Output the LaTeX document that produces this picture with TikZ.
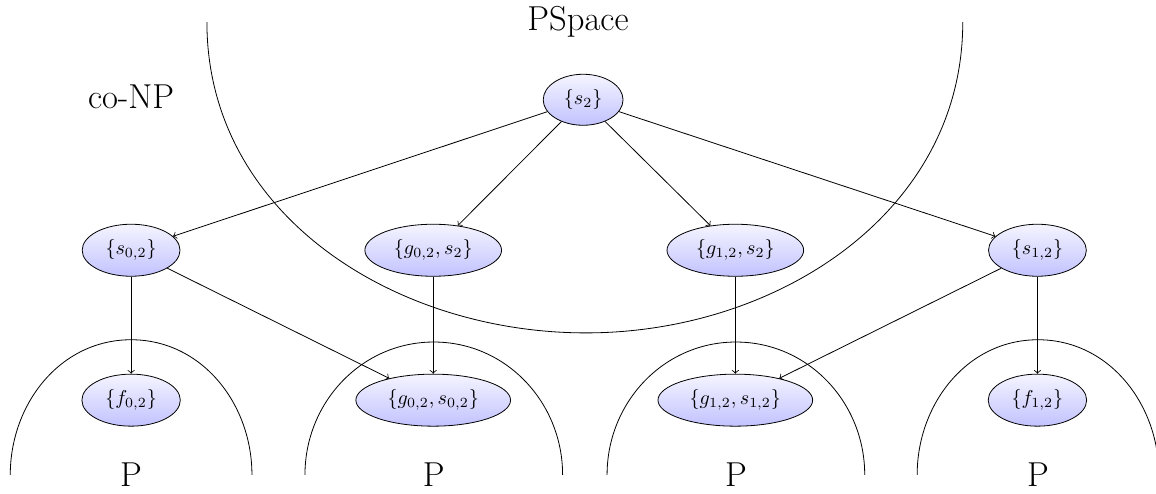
\documentclass[tikz,border=0pt]{standalone}
\usetikzlibrary{shapes.geometric}
\begin{document}
\begin{tikzpicture}[setnode/.style={ellipse,draw,top color=blue!4,bottom color=blue!24,inner xsep=4.5pt,inner ysep=4pt},
 classlabel/.style={font=\LARGE,anchor=base}]
 \useasboundingbox (0,0) rectangle (20.28,-8.65);
 % classes
 \draw (3.63,-0.39) to[out=-90,in=180] (10.28,-5.84) to[out=0,in=-90] (16.89,-0.39);
 \draw (0.18,-8.33) to[out=90,in=180] (2.30,-5.96) to[out=0,in=90] (4.42,-8.33);
 \draw (5.35,-8.33) to[out=90,in=180] (7.61,-6.00) to[out=0,in=90] (9.87,-8.33);
 \draw (10.65,-8.33) to[out=90,in=180] (12.91,-6.00) to[out=0,in=90] (15.17,-8.33);
 \draw (16.09,-8.33) to[out=90,in=180] (18.21,-5.96) to[out=0,in=90] (20.33,-8.33);
 \node[classlabel] (pspace) at (10.14,-0.54) {PSpace};
 \node[classlabel] (conp) at (2.30,-1.91) {co-NP};
 \node[classlabel] (p1) at (2.30,-8.54) {P};
 \node[classlabel] (p2) at (7.61,-8.54) {P};
 \node[classlabel] (p3) at (12.91,-8.54) {P};
 \node[classlabel] (p4) at (18.21,-8.54) {P};
 % sets
 \node[setnode] (s2) at (10.23,-1.75) {$\{s_2\}$};
 \node[setnode] (s02) at (2.30,-4.39) {$\{s_{0,2}\}$};
 \node[setnode] (g02s2) at (7.60,-4.39) {$\{g_{0,2}, s_2\}$};
 \node[setnode] (g12s2) at (12.90,-4.39) {$\{g_{1,2}, s_2\}$};
 \node[setnode] (s12) at (18.20,-4.39) {$\{s_{1,2}\}$};
 \node[setnode] (f02) at (2.30,-7.02) {$\{f_{0,2}\}$};
 \node[setnode] (g02s02) at (7.60,-7.02) {$\{g_{0,2}, s_{0,2}\}$};
 \node[setnode] (g12s12) at (12.90,-7.02) {$\{g_{1,2}, s_{1,2}\}$};
 \node[setnode] (f12) at (18.20,-7.02) {$\{f_{1,2}\}$};
 % edges
 \draw[->] (s2)--(s02);
 \draw[->] (s2)--(g02s2);
 \draw[->] (s2)--(g12s2);
 \draw[->] (s2)--(s12);
 \draw[->] (s02)--(f02);
 \draw[->] (s02)--(g02s02);
 \draw[->] (g02s2)--(g02s02);
 \draw[->] (g12s2)--(g12s12);
 \draw[->] (s12)--(g12s12);
 \draw[->] (s12)--(f12);
\end{tikzpicture}
\end{document}
